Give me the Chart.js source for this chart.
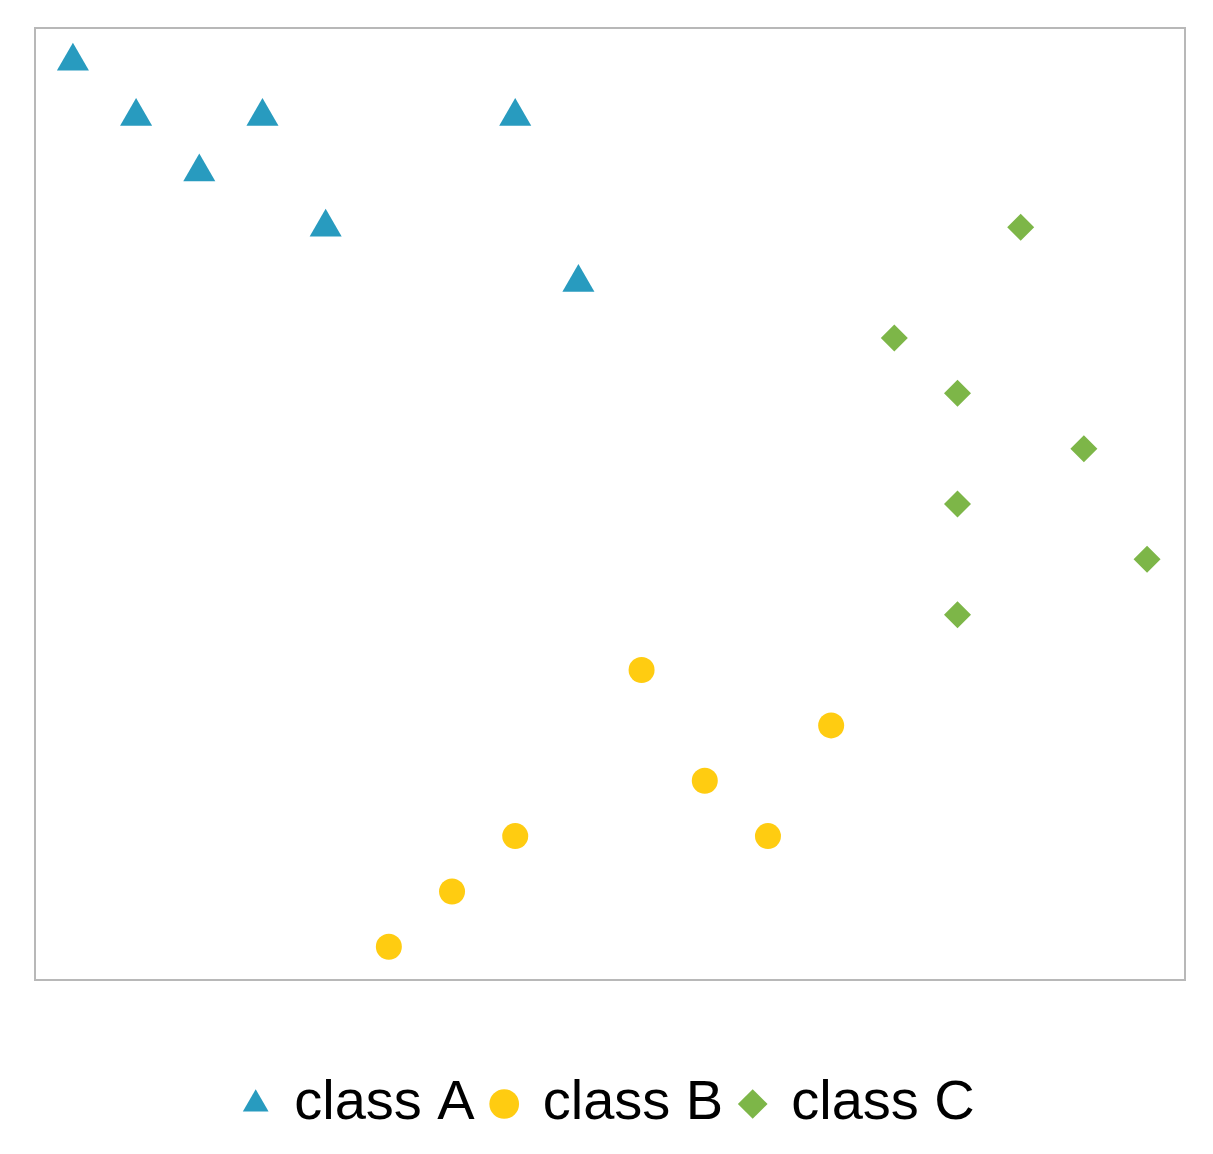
<!DOCTYPE html>
<html>
<head>
<meta charset="utf-8">
<script src="https://cdn.jsdelivr.net/npm/chart.js"></script>
<style>
  html, body { margin: 0; padding: 0; background: #fff; }
  #wrap { width: 1213px; height: 1154px; }
</style>
</head>
<body>
<div id="wrap"><canvas id="chart"></canvas></div>
<script>
  // grid positions (column, row counted from the bottom)
  const classAx = [0, 1, 3, 7, 2, 4, 8];
  const classAy = [16, 15, 15, 15, 14, 13, 12];
  const classBx = [9, 12, 10, 7, 11, 6, 5];
  const classBy = [5, 4, 3, 2, 2, 1, 0];
  const classCx = [15, 13, 14, 16, 14, 17, 14];
  const classCy = [13, 11, 10, 9, 8, 7, 6];
  const seriesNames = ['class A', 'class B', 'class C'];

  const toPoints = (xs, ys) => xs.map((x, i) => ({ x: x, y: ys[i] }));

  // gray frame around the plot area
  const framePlugin = {
    id: 'frame',
    afterDraw(chart) {
      const a = chart.chartArea;
      const ctx = chart.ctx;
      ctx.save();
      ctx.strokeStyle = '#b8b8b8';
      ctx.lineWidth = 2;
      ctx.strokeRect(a.left, a.top, a.right - a.left, a.bottom - a.top);
      ctx.restore();
    }
  };

  new Chart(document.getElementById('chart'), {
    type: 'scatter',
    data: {
      datasets: [
        {
          label: seriesNames[0],
          data: toPoints(classAx, classAy),
          pointStyle: 'triangle',
          pointRadius: 18.5,
          backgroundColor: '#289bbf',
          borderWidth: 0
        },
        {
          label: seriesNames[1],
          data: toPoints(classBx, classBy),
          pointStyle: 'circle',
          pointRadius: 13,
          backgroundColor: '#ffcc11',
          borderWidth: 0
        },
        {
          label: seriesNames[2],
          data: toPoints(classCx, classCy),
          pointStyle: 'rectRot',
          pointRadius: 13.5,
          backgroundColor: '#7db648',
          borderWidth: 0
        }
      ]
    },
    options: {
      responsive: true,
      maintainAspectRatio: false,
      animation: false,
      layout: { padding: { left: 35, right: 28, top: 28, bottom: 12 } },
      scales: {
        x: {
          min: -0.6, max: 17.6,
          ticks: { display: false },
          grid: { display: false },
          border: { display: false },
          afterFit(scale) { scale.height = 77; }
        },
        y: {
          min: -0.6, max: 16.6,
          display: false
        }
      },
      plugins: {
        tooltip: { enabled: false },
        legend: {
          position: 'bottom',
          labels: {
            usePointStyle: true,
            boxWidth: 21,
            boxHeight: 21,
            padding: 19,
            color: '#000',
            font: { family: '"Liberation Sans", Arial, sans-serif', size: 56 }
          }
        }
      }
    },
    plugins: [framePlugin]
  });
</script>
</body>
</html>
